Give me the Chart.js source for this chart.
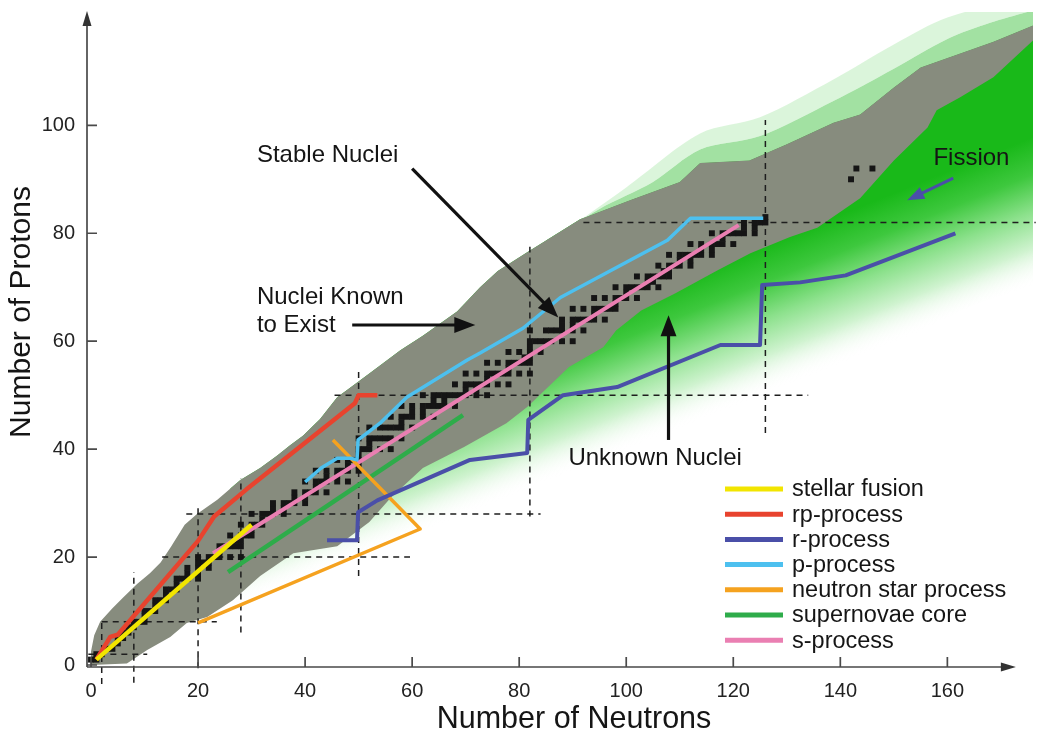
<!DOCTYPE html>
<html>
<head>
<meta charset="utf-8">
<title>Chart of the nuclides</title>
<script src="https://cdn.jsdelivr.net/npm/chart.js@4.4.1/dist/chart.umd.min.js"></script>
<style>
  html, body { margin: 0; padding: 0; background: #fff; }
  #wrap { width: 1038px; height: 734px; }
</style>
</head>
<body>
<div id="wrap"><canvas id="nuclides"></canvas></div>
<script>
// ---- data: [N (neutrons), Z (protons)] ----
const xTicks = [0, 20, 40, 60, 80, 100, 120, 140, 160];
const yTicks = [0, 20, 40, 60, 80, 100];

// outline of the nuclei known to exist
const knownUpper = [[0,2.5],[0.6,5.5],[1.7,8],[4,10.5],[6,12.5],[8.6,15],[11,17],[13,19],[15,22],[17.5,26],
  [19.8,28],[23.6,30.6],[27.9,34.3],[31.6,36.5],[34.8,38.8],[37.2,40.7],[39.6,42.5],[42.8,45.6],[46,49.6],
  [47.9,51],[52,54],[57.8,58.3],[62,61],[68.4,65.5],[72.7,70],[76,73],[81.5,76.5],[91.4,82.6],[100.7,86.1],
  [110,89.5],[113.8,93],[123,93.5],[130,96.5],[138.7,100.5],[143.7,102],[150,107],[155,110.7],[162.4,113.3],
  [168.6,115.5],[176,118.5]];
const knownLower = [[0,0],[6.7,0.3],[10.5,2.8],[14.8,5.2],[17.9,7.8],[21.7,8.9],[26.5,12],[31.6,16.5],
  [37.8,20.7],[46,22],[52,26.5],[56,31],[62,36.5],[69.7,40.4],[77.6,44.8],[81.5,47.8],[89.3,55.2],[95.7,58.9],
  [98.1,62],[102.8,65.7],[109.2,68.9],[117,73.1],[123.2,76.3],[130.6,79.3],[135.7,81],[143.7,86.5],[150,93.5],
  [156.3,99.6],[158,102.8],[162.4,105.2],[168.6,108.9],[176,115.7]];

// unknown nuclei: green fringe above the band and where the green fades out below it
const haloInner = [[85,78],[95,84.5],[105,89.5],[113.8,95.5],[125,98],[138.7,104.5],[150,110.5],[160,116],[168,119],[176,121.3]];
const haloOuter = [[85,78],[100,88.5],[113.8,98.5],[125,101.5],[138.7,108.5],[150,115],[160,120],[176,124]];
const unknownEdge = [[26,11],[38,15.5],[54,21.3],[69.7,24.4],[93,33.7],[117,41],[132.7,49],[148.4,58.3],[164,66.3],[177,70.7]];

// processes
const stellarFusion = [[1,1],[30,26]];
const rpProcess = [[1,1],[3.6,5.2],[5,5.6],[20,23],[23,27.5],[29,32.5],[49.3,48.5],[50,50],[53.5,50]];
const rProcess = [[44.1,23.1],[49.7,23.1],[49.9,28.3],[53.5,30.5],[70.8,38],[81.5,39.3],[81.7,45.4],[88.2,50],
  [98.3,51.5],[117.6,59.3],[125,59.3],[125.4,70.4],[132.5,70.9],[141,72.2],[161.5,80]];
const pProcess = [[40,33.9],[43,36.5],[46,38.3],[48.5,38.3],[49.7,38],[49.9,41.7],[54,44.8],[59,49.6],[70.3,56.5],
  [72.7,57.8],[80.7,62.4],[87.7,68.1],[107.7,78.7],[112,82.8],[125.6,82.8]];
const neutronStar = [[45.2,41.7],[61.5,25.2],[20,7.8]];
const supernovaeCore = [[25.6,17.2],[69.5,46.3]];
const sProcess = [[22.8,20.7],[121,81.5]];

const processNames = ['stellar fusion', 'rp-process', 'r-process', 'p-process', 'neutron star process', 'supernovae core', 's-process'];
const processData = [stellarFusion, rpProcess, rProcess, pProcess, neutronStar, supernovaeCore, sProcess];

// magic numbers: [N, Z from, Z to] and [Z, N from, N to]
const magicVertical = [[2,-3.5,8],[8,-3.3,17.2],[20,-0.6,29.5],[28,6,34.6],[50,16.5,55],[82,27.5,77.5],[126,43,101]];
const magicHorizontal = [[2,-0.5,10.5],[8,2,23.5],[20,13.3,59.6],[28,17.8,84],[50,45.5,134],[82,92,176.5]];

// stable nuclides: Z -> list of N
const stableN = {
  1:[0,1], 2:[1,2], 3:[3,4], 4:[5], 5:[5,6], 6:[6,7], 7:[7,8], 8:[8,9,10], 9:[10], 10:[10,11,12],
  11:[12], 12:[12,13,14], 13:[14], 14:[14,15,16], 15:[16], 16:[16,17,18,20], 17:[18,20], 18:[18,20,22],
  19:[20,21,22], 20:[20,22,23,24,26,28], 21:[24], 22:[24,25,26,27,28], 23:[27,28], 24:[26,28,29,30],
  25:[30], 26:[28,30,31,32], 27:[32], 28:[30,32,33,34,36], 29:[34,36], 30:[34,36,37,38,40], 31:[38,40],
  32:[38,40,41,42,44], 33:[42], 34:[40,42,43,44,46,48], 35:[44,46], 36:[42,44,46,47,48,50], 37:[48,50],
  38:[46,48,49,50], 39:[50], 40:[50,51,52,54,56], 41:[52], 42:[50,52,53,54,55,56,58],
  44:[52,54,55,56,57,58,60], 45:[58], 46:[56,58,59,60,62,64], 47:[60,62], 48:[58,60,62,63,64,65,66,68],
  49:[64,66], 50:[62,64,65,66,67,68,69,70,72,74], 51:[70,72], 52:[68,70,71,72,73,74,76,78], 53:[74],
  54:[70,72,74,75,76,77,78,80,82], 55:[78], 56:[74,76,78,79,80,81,82], 57:[81,82], 58:[78,80,82,84],
  59:[82], 60:[82,83,84,85,86,88,90], 62:[82,85,86,87,88,90,92], 63:[88,90], 64:[88,90,91,92,93,94,96],
  65:[94], 66:[90,92,94,95,96,97,98], 67:[98], 68:[94,96,98,99,100,102], 69:[100],
  70:[98,100,101,102,103,104,106], 71:[104,105], 72:[102,104,105,106,107,108], 73:[107,108],
  74:[106,108,109,110,112], 75:[110,112], 76:[108,110,111,112,113,114,116], 77:[114,116],
  78:[112,114,116,117,118,120], 79:[118], 80:[116,118,119,120,121,122,124], 81:[122,124],
  82:[122,124,125,126], 83:[126], 90:[142], 92:[143,146]
};

// callouts
const calloutText = ['Stable Nuclei', 'Nuclei Known', 'to Exist', 'Unknown Nuclei', 'Fission'];
const calloutAt = [[31,94.4],[31,68.1],[31,63],[89.2,38.3],[157.4,93.9]];
const arrowFrom = [[60,92],[48.8,63],[107.9,41.7],[161.1,90.2]];
const arrowTo = [[87.3,64.4],[71.8,63],[107.9,64.8],[152.5,86.1]];

// ---- styles ----
const FONT = "'Liberation Sans', Arial, sans-serif";
const processColors = ['#f2e500', '#e8432e', '#4a4fa8', '#4dc0ef', '#f5a21f', '#2eac4a', '#ea7fb2'];
const processWidths = [4.5, 4.5, 4, 3.5, 3.5, 4.5, 4];
const arrowColors = ['#111', '#111', '#111', '#4a4fa8'];
const GREY = '#878c7e';

const pts = arr => arr.map(p => ({x: p[0], y: p[1]}));

function greenFade(context) {
    const chart = context.chart;
    const {x, y} = chart.scales;
    if (!chart.chartArea || !x || !y) return 'rgba(120,210,120,0.5)';
    const g = chart.ctx.createLinearGradient(
        x.getPixelForValue(170), y.getPixelForValue(95.4),
        x.getPixelForValue(179.6), y.getPixelForValue(71.7));
    g.addColorStop(0, 'rgb(25,185,25)');
    g.addColorStop(0.25, 'rgb(62,200,62)');
    g.addColorStop(0.5, 'rgb(140,225,140)');
    g.addColorStop(0.75, 'rgb(208,243,208)');
    g.addColorStop(1, 'rgba(255,255,255,0)');
    return g;
}

const datasets = [];

processData.forEach((d, i) => {
    datasets.push({
        label: processNames[i], data: pts(d),
        borderColor: processColors[i], borderWidth: processWidths[i],
        pointRadius: 0, fill: false, tension: 0, borderJoinStyle: 'round'
    });
});

const stablePts = [];
Object.keys(stableN).forEach(z => stableN[z].forEach(n => stablePts.push({x: n, y: +z})));
datasets.push({
    label: 'stable', data: stablePts, showLine: false,
    pointStyle: 'rect', pointRadius: 4.2, pointBorderWidth: 0,
    pointBackgroundColor: '#151515', backgroundColor: '#151515'
});

magicVertical.forEach(m => datasets.push({
    label: 'magic', data: [{x: m[0], y: m[1]}, {x: m[0], y: m[2]}],
    borderColor: '#1e1e1e', borderWidth: 1.5, borderDash: [6, 5], pointRadius: 0, clip: false
}));
magicHorizontal.forEach(m => datasets.push({
    label: 'magic', data: [{x: m[1], y: m[0]}, {x: m[2], y: m[0]}],
    borderColor: '#1e1e1e', borderWidth: 1.5, borderDash: [6, 5], pointRadius: 0, clip: false
}));

const iUpper = datasets.length;
datasets.push({label: 'known', data: pts(knownUpper), borderWidth: 0, pointRadius: 0,
    backgroundColor: GREY, fill: {target: iUpper + 1}});
datasets.push({label: 'known-lower', data: pts(knownLower), borderWidth: 0, pointRadius: 0, fill: false});
const iHalo = datasets.length;
datasets.push({label: 'halo-outer', data: pts(haloOuter), borderWidth: 0, pointRadius: 0, tension: 0.3,
    backgroundColor: 'rgba(175,232,175,0.45)', fill: {target: iHalo + 1}});
datasets.push({label: 'halo-inner', data: pts(haloInner), borderWidth: 0, pointRadius: 0, tension: 0.3,
    backgroundColor: 'rgba(85,200,85,0.55)', fill: {target: iUpper}});
datasets.push({label: 'unknown', data: pts(unknownEdge), borderWidth: 0, pointRadius: 0, tension: 0.3,
    backgroundColor: greenFade, fill: {target: iUpper}});

function arrow(ctx, x0, y0, x1, y1, color, width, head) {
    const a = Math.atan2(y1 - y0, x1 - x0);
    const c = Math.cos(a), s = Math.sin(a);
    ctx.strokeStyle = color;
    ctx.fillStyle = color;
    ctx.lineWidth = width;
    ctx.beginPath();
    ctx.moveTo(x0, y0);
    ctx.lineTo(x1 - c * head * 0.8, y1 - s * head * 0.8);
    ctx.stroke();
    ctx.beginPath();
    ctx.moveTo(x1, y1);
    ctx.lineTo(x1 - head * c + head * 0.38 * s, y1 - head * s - head * 0.38 * c);
    ctx.lineTo(x1 - head * c - head * 0.38 * s, y1 - head * s + head * 0.38 * c);
    ctx.closePath();
    ctx.fill();
}

const decor = {
    id: 'decor',
    afterDatasetsDraw(chart) {
        const {ctx, chartArea: area, scales: {x, y}} = chart;
        const X = v => x.getPixelForValue(v);
        const Y = v => y.getPixelForValue(v);
        ctx.save();

        // axes with arrow heads and inward ticks
        const left = area.left, bottom = area.bottom, xEnd = X(172.8);
        ctx.strokeStyle = '#4a4a4a';
        ctx.fillStyle = '#333';
        ctx.lineWidth = 1.7;
        ctx.beginPath();
        ctx.moveTo(left, bottom);
        ctx.lineTo(left, area.top + 8);
        ctx.moveTo(left, bottom);
        ctx.lineTo(xEnd - 8, bottom);
        yTicks.forEach(v => { ctx.moveTo(left, Y(v)); ctx.lineTo(left + 10, Y(v)); });
        xTicks.forEach(v => { ctx.moveTo(X(v), bottom); ctx.lineTo(X(v), bottom - 10); });
        ctx.stroke();
        ctx.beginPath();
        ctx.moveTo(left, area.top - 1);
        ctx.lineTo(left - 4.5, area.top + 14);
        ctx.lineTo(left + 4.5, area.top + 14);
        ctx.closePath();
        ctx.fill();
        ctx.beginPath();
        ctx.moveTo(xEnd, bottom);
        ctx.lineTo(xEnd - 15, bottom - 4.5);
        ctx.lineTo(xEnd - 15, bottom + 4.5);
        ctx.closePath();
        ctx.fill();

        // callout arrows and text
        arrowFrom.forEach((f, i) => {
            const t = arrowTo[i];
            arrow(ctx, X(f[0]), Y(f[1]), X(t[0]), Y(t[1]), arrowColors[i], i === 3 ? 3 : 3.2, i === 3 ? 17 : 21);
        });
        ctx.fillStyle = '#151515';
        ctx.font = '24px ' + FONT;
        ctx.textBaseline = 'middle';
        ctx.textAlign = 'left';
        calloutText.forEach((t, i) => ctx.fillText(t, X(calloutAt[i][0]), Y(calloutAt[i][1])));

        // legend
        ctx.font = '23.5px ' + FONT;
        processNames.forEach((name, i) => {
            const ly = 489 + i * 25.2;
            ctx.strokeStyle = processColors[i];
            ctx.lineWidth = 5;
            ctx.beginPath();
            ctx.moveTo(725, ly);
            ctx.lineTo(783, ly);
            ctx.stroke();
            ctx.fillStyle = '#151515';
            ctx.fillText(name, 792, ly + 1);
        });

        // axis titles
        ctx.font = '30.5px ' + FONT;
        ctx.textAlign = 'center';
        ctx.fillText('Number of Neutrons', 574, 720);
        ctx.translate(22, 312);
        ctx.rotate(-Math.PI / 2);
        ctx.font = '30px ' + FONT;
        ctx.fillText('Number of Protons', 0, 0);
        ctx.restore();
    }
};

function noPadding(s) {
    s.paddingTop = 0;
    s.paddingBottom = 0;
    s.paddingLeft = 0;
    s.paddingRight = 0;
}

new Chart(document.getElementById('nuclides'), {
    type: 'line',
    data: {datasets},
    options: {
        responsive: true,
        maintainAspectRatio: false,
        animation: false,
        events: [],
        layout: {padding: {top: 12, right: 5, left: 0, bottom: 0}},
        plugins: {legend: {display: false}, tooltip: {enabled: false}},
        scales: {
            x: {
                type: 'linear', min: -0.75, max: 176,
                grid: {display: false, drawTicks: false},
                border: {display: false},
                afterBuildTicks: s => { s.ticks = xTicks.map(v => ({value: v})); },
                afterFit: s => { s.height = 67; noPadding(s); },
                ticks: {padding: 12, color: '#222', font: {family: FONT, size: 20}, maxRotation: 0}
            },
            y: {
                type: 'linear', min: -0.37, max: 121,
                grid: {display: false, drawTicks: false},
                border: {display: false},
                afterBuildTicks: s => { s.ticks = yTicks.map(v => ({value: v})); },
                afterFit: s => { s.width = 87; noPadding(s); },
                ticks: {padding: 12, color: '#222', font: {family: FONT, size: 20}}
            }
        }
    },
    plugins: [decor]
});
</script>
</body>
</html>
